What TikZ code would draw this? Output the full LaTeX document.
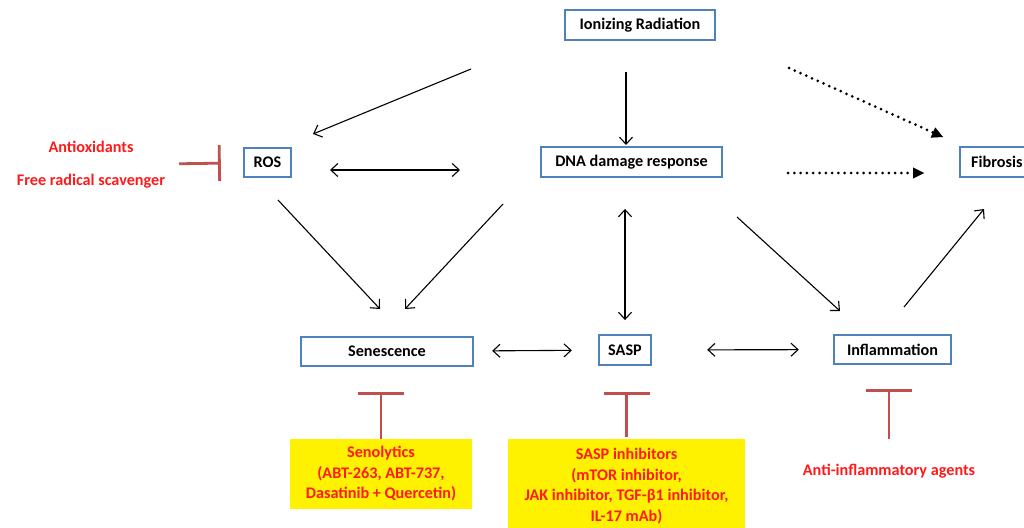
\documentclass[tikz,border=0pt]{standalone}
\usepackage{fontspec}
\setmainfont{Carlito}
\usetikzlibrary{arrows.meta, positioning, calc}
\definecolor{boxblue}{HTML}{4F81BD}
\definecolor{inhred}{HTML}{C0504D}
\definecolor{drugred}{HTML}{FF1A1A}

\begin{document}
\begin{tikzpicture}[x=1pt, y=-1pt, font=\fontsize{16.2}{20.5}\selectfont\bfseries,
        box/.style={draw=boxblue, line width=2.4pt, fill=white, minimum height=29.5pt, inner sep=3pt},
        drug/.style={text=drugred, align=center, inner sep=0pt},
        drugbox/.style={drug, fill=yellow, inner xsep=4pt},
        inhib/.style={draw=inhred, line width=2.8pt, -{Bar[width=#1]}},
        inhib/.default=46pt,
        link/.style={line width=1.1pt, -{Straight Barb[length=7pt, width=13pt]}},
        both/.style={line width=1.1pt, {Straight Barb[length=7pt, width=13pt]}-{Straight Barb[length=7pt, width=13pt]}},
        weak/.style={line width=3pt, line cap=round, dash pattern=on 0pt off 6.3pt, -{Triangle[length=11pt, width=11pt, line width=0.4pt]}}]
        \path[use as bounding box, clip] (0,0) rectangle (1024,527);

        % boxes
        \node[box, minimum width=150pt] (ir) at (640,25) {Ionizing Radiation};
        \node[box, minimum width=47pt] (ros) at (267.5,162.5) {ROS};
        \node[box, minimum width=181pt] (dna) at (631.5,162) {DNA damage response};
        \node[box, anchor=west, inner xsep=11pt] (fib) at (959,162) {Fibrosis};
        \node[box, minimum width=172pt] (senes) at (387,351.5) {Senescence};
        \node[box, minimum width=52pt] (sasp) at (625,350) {SASP};
        \node[box, minimum width=117pt] (infl) at (892.5,349.5) {Inflammation};

        % drugs
        \node[drug] (antiox) at (91,165) {Antioxidants\\[12.5pt]Free radical  scavenger};
        \node[drugbox, minimum width=182pt, minimum height=70pt] (senol) at (381,474) {Senolytics\\(ABT-263, ABT-737,\\Dasatinib + Quercetin)};
        \node[drugbox, minimum width=237pt, anchor=north, inner ysep=9pt] (saspinh) at (626.5,439) {SASP inhibitors\\(mTOR inhibitor,\\JAK inhibitor, TGF-β1 inhibitor,\\IL-17 mAb)};
        \node[drug] (antiinf) at (889,471) {Anti-inflammatory agents};

        % arrow ends
        \coordinate (irL) at (471,69);
        \coordinate (rosT) at (313,134);
        \coordinate (irB) at (626,72);
        \coordinate (dnaT) at (626,145);
        \coordinate (irR) at (789,68);
        \coordinate (fibT) at (943,137);
        \coordinate (rosR) at (330,170);
        \coordinate (dnaL) at (460,170);
        \coordinate (dnaR) at (788,173);
        \coordinate (fibL) at (924,173);
        \coordinate (rosB) at (278,200);
        \coordinate (senT1) at (380,309);
        \coordinate (dnaB1) at (503,204);
        \coordinate (senT2) at (405,309);
        \coordinate (dnaB2) at (737,217);
        \coordinate (inflT) at (840,311);
        \coordinate (inflR) at (904,307);
        \coordinate (fibB) at (984,209);

        \draw[link] (irL) -- (rosT);
        \draw[link] (irB) -- (dnaT);
        \draw[weak] (irR) -- (fibT);
        \draw[both] (rosR) -- (dnaL);
        \draw[weak] (dnaR) -- (fibL);
        \draw[link] (rosB) -- (senT1);
        \draw[link] (dnaB1) -- (senT2);
        \draw[link] (dnaB2) -- (inflT);
        \draw[link] (inflR) -- (fibB);
        \draw[both, shorten <=31pt, shorten >=14pt] (sasp.north |- dna.south) -- (sasp.north);
        \draw[both, shorten <=18pt, shorten >=26pt] (senes) -- (sasp);
        \draw[both, shorten <=55pt, shorten >=34pt] (sasp) -- (infl);

        % inhibition
        \draw[inhib=36pt, shorten <=14pt, shorten >=22pt] (antiox) -- (ros);
        \draw[inhib, shorten >=25pt] (senol.north) -- (senol.north |- senes.south);
        \draw[inhib, shorten <=2pt, shorten >=26pt] (saspinh.north) -- (saspinh.north |- sasp.south);
        \draw[inhib, shorten <=25pt, shorten >=24pt] (antiinf.north) -- (antiinf.north |- infl.south);
\end{tikzpicture}
\end{document}
